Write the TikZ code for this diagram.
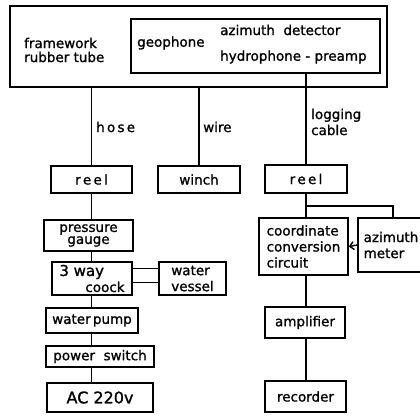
\documentclass[tikz,border=0pt]{standalone}
\usepackage{fontspec}
\setmainfont{DejaVu Sans}[FakeBold=1.2]
\usetikzlibrary{arrows.meta}
\begin{document}
\begin{tikzpicture}[x=1pt,y=-1pt,
  every node/.style={font=\fontsize{13.5}{16}\selectfont},
  box/.style={draw,line width=1.6pt,inner sep=0pt,align=center},
  lbl/.style={inner sep=0pt,anchor=west,align=left},
  conn/.style={line width=1.4pt}]
\useasboundingbox (0,0) rectangle (420,415);
\clip (0,0) rectangle (420,415);
% top assembly
\node[box,minimum width=377pt,minimum height=81pt] (frame) at (198.5,46.5) {};
\node[box,minimum width=249pt,minimum height=54pt] (probe) at (255.5,46) {};
\node[lbl] (fwtxt) at (24,50) {framework\\[-2pt]rubber tube};
\node[lbl] (geo) at (137,43) {geophone};
\node[lbl] (azd) at (220,30) {azimuth\ \ detector};
\node[lbl] (hyd) at (220,57) {hydrophone - preamp};
% reels and winch
\node[box,minimum width=81pt,minimum height=27pt] (reelL) at (91.5,179.5) {r\,e\,e\,l};
\node[box,minimum width=82pt,minimum height=27pt] (winch) at (199,179.5) {winch};
\node[box,minimum width=82pt,minimum height=28pt] (reelR) at (306,179) {r\,e\,e\,l};
\draw[conn] (reelL.north) -- (reelL.north |- frame.south);
\draw[conn] (winch.north) -- (winch.north |- frame.south);
\draw[conn] (reelR.north) -- (reelR.north |- probe.south);
\node[lbl] (hose) at (96,127) {h\,o\,s\,e};
\node[lbl] (wire) at (203,127) {wire};
\node[lbl] (log) at (311,122) {logging\\cable};
% left chain
\node[box,minimum width=89pt,minimum height=31pt] (gauge) at (88.5,235.5) {pressure\\[-4pt]gauge};
\node[box,minimum width=80pt,minimum height=33pt,align=left] (coock) at (92,278.5) {{\fontsize{15}{16}\selectfont 3 way}\\\hspace*{26pt}coock};
\node[box,minimum width=67pt,minimum height=33pt,align=left] (vessel) at (192.5,278.5) {water\\vessel};
\node[box,minimum width=92pt,minimum height=25pt] (pump) at (92,320.5) {water\hspace{-2pt} pump};
\node[box,minimum width=108pt,minimum height=21pt] (switch) at (100,356.5) {power\ \ switch};
\node[box,minimum width=106pt,minimum height=29pt,font=\fontsize{16}{18}\selectfont] (ac) at (100,397.5) {AC 220v};
\draw[conn] (reelL.south) -- (reelL.south |- gauge.north);
\draw[conn] (reelL.south |- gauge.south) -- (reelL.south |- coock.north);
\draw[conn] (reelL.south |- coock.south) -- (reelL.south |- pump.north);
\draw[conn] (reelL.south |- pump.south) -- (reelL.south |- switch.north);
\draw[conn] (reelL.south |- switch.south) -- (reelL.south |- ac.north);
\draw[conn] ([yshift=10pt]coock.east) -- ([yshift=10pt]vessel.west);
\draw[conn] ([yshift=-4pt]coock.east) -- ([yshift=-4pt]vessel.west);
% right chain
\node[box,minimum width=89pt,minimum height=57pt,align=left] (circuit) at (303.5,246.5) {coordinate\\conversion\\circuit};
\node[box,minimum width=66pt,minimum height=54pt,align=left] (meter) at (391,245) {azimuth\\meter};
\node[box,minimum width=80pt,minimum height=31pt] (amp) at (305,322.5) {amplifier};
\node[box,minimum width=81pt,minimum height=31pt] (rec) at (305.5,396.5) {recorder};
\coordinate (br) at (307,206);
\draw[conn] (reelR.south) -- (reelR.south |- circuit.north);
\draw[conn] (reelR.south |- br) -| ([xshift=2pt]meter.north);
\draw[conn,-{Straight Barb[length=4pt,width=8pt]}] (meter.west) -- (circuit.east);
\draw[conn] (reelR.south |- circuit.south) -- (reelR.south |- amp.north);
\draw[conn] (reelR.south |- amp.south) -- (reelR.south |- rec.north);
\end{tikzpicture}
\end{document}
